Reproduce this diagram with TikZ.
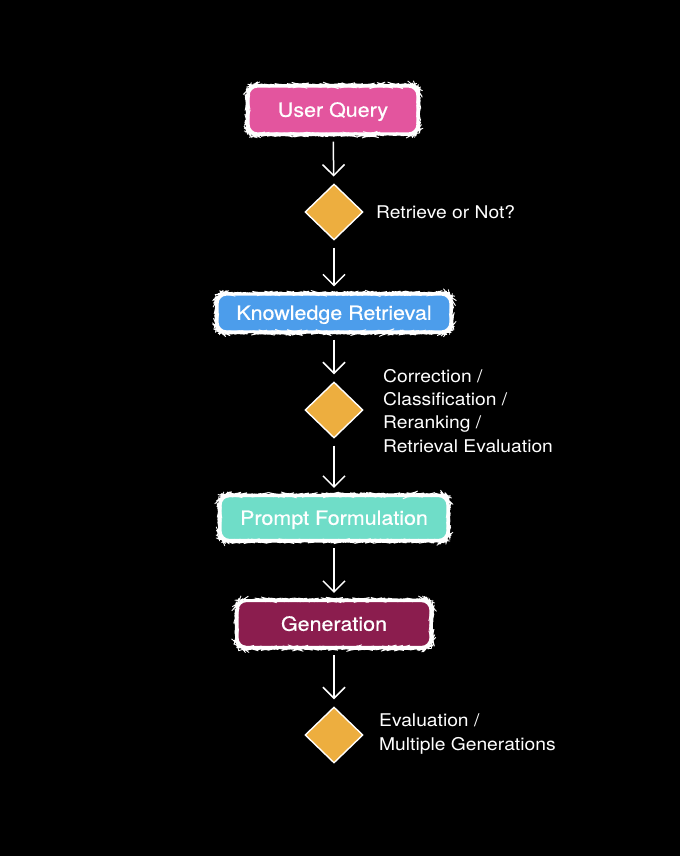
\documentclass[tikz,border=0pt]{standalone}
\usepackage{fontspec}
\setmainfont[FakeStretch=1.1]{TeX Gyre Heros}
\newfontfamily\boxfont[FakeStretch=1.1,FakeBold=0.6]{TeX Gyre Heros}
\usetikzlibrary{shapes.geometric,arrows.meta,decorations.pathmorphing}
\definecolor{cpink}{HTML}{E3559E}
\definecolor{cblue}{HTML}{4C9DEB}
\definecolor{cteal}{HTML}{6FDDC8}
\definecolor{cmaroon}{HTML}{8B1D4E}
\definecolor{corange}{HTML}{EDAE3F}
\tikzset{
  stepbox/.style={rounded corners=9pt, draw=white, line width=2.2pt, text=white,
    font=\boxfont\fontsize{19.5}{21}\selectfont, inner sep=0pt, text height=13.5pt, text depth=0pt},
  chalk/.style={draw=white, line width=0.8pt, decorate,
    decoration={random steps, segment length=1.5pt, amplitude=0.3pt}},
  decision/.style={diamond, fill=corange, draw=white, line width=1.4pt,
    minimum width=58pt, minimum height=56pt, inner sep=0pt},
  note/.style={text=white, align=left,
    font=\fontsize{17.5}{23.3}\selectfont, inner sep=0pt},
  flow/.style={draw=white, line width=1.5pt,
    -{Straight Barb[length=11pt, width=22pt, line width=1.5pt]},
    shorten <=7pt, shorten >=7pt}
}
\begin{document}
\begin{tikzpicture}[x=1pt, y=-1pt]
\fill[black] (0,0) rectangle (680,856);
\useasboundingbox (0,0) rectangle (680,856);

\node[stepbox, fill=cpink, minimum width=169pt, minimum height=47pt] (uq) at (333,110) {User Query};
\node[decision] (d1) at (334,212) {};
\node[note, anchor=west, text height=12.5pt, text depth=0pt] (l1) at (376,212) {Retrieve or Not?};
\node[stepbox, fill=cblue, minimum width=233pt, minimum height=37pt] (kr) at (334,313) {Knowledge Retrieval};
\node[decision] (d2) at (334,410) {};
\node[note, anchor=north west] (l2) at (383,369) {Correction /\\Classification /\\Reranking /\\Retrieval Evaluation};
\node[stepbox, fill=cteal, minimum width=227pt, minimum height=44pt] (pf) at (334,518) {Prompt Formulation};
\node[stepbox, fill=cmaroon, minimum width=193pt, minimum height=46pt] (gen) at (334,624) {Generation};
\node[decision] (d3) at (334,735) {};
\node[note, anchor=north west] (l3) at (379,714) {Evaluation /\\Multiple Generations};

\foreach \n in {uq,kr,pf,gen}{
  \draw[chalk, rounded corners=9pt] (\n.north west) rectangle (\n.south east);
}

\draw[flow] (uq) -- (d1);
\draw[flow] (d1) -- (kr);
\draw[flow] (kr) -- (d2);
\draw[flow] (d2) -- (pf);
\draw[flow] (pf) -- (gen);
\draw[flow] (gen) -- (d3);
\end{tikzpicture}
\end{document}
